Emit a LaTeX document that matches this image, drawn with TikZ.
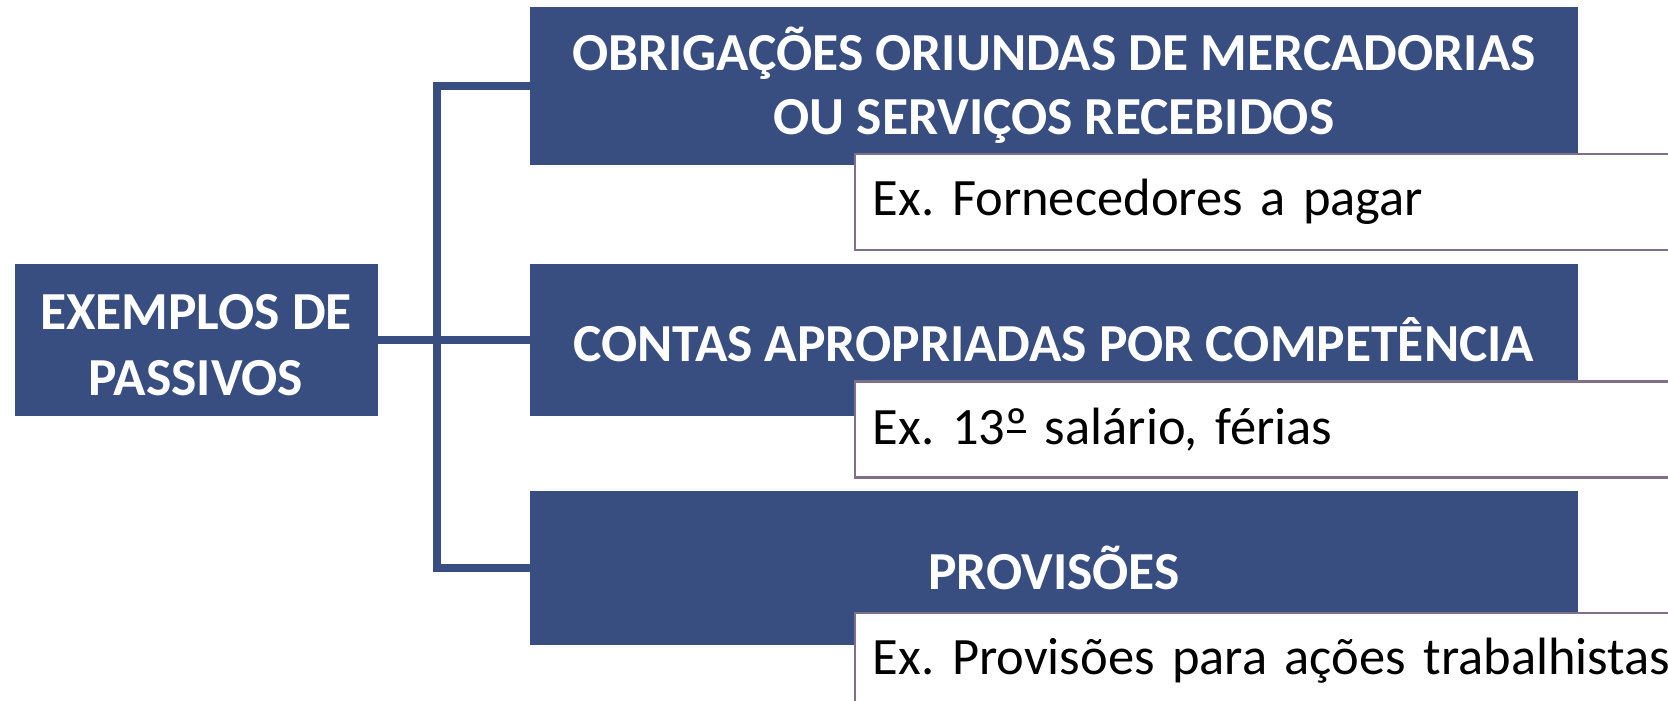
\documentclass[tikz,border=0pt]{standalone}
\usepackage{fontspec}
\setmainfont{Carlito}
\usetikzlibrary{positioning}
\definecolor{azul}{RGB}{56,78,128}
\definecolor{borda}{RGB}{126,112,136}
\frenchspacing
% ordinal with underline bar, as in the original font
\newcommand{\ordinalo}{\sbox0{º}\rlap{º}\kern0.03em\raisebox{0.22em}{\rule{\dimexpr\wd0-0.06em\relax}{0.045em}}\kern0.03em}

\begin{document}
\begin{tikzpicture}[%
        x=1pt, y=1pt,
        node distance=99pt,
        categoria/.style={%
          rectangle,
          fill=azul,
          text=white,
          font=\fontsize{53.5}{64}\selectfont\bfseries,
          align=center,
          minimum width=1048pt,
          minimum height=152pt
        },
        exemplo/.style={%
          rectangle,
          draw=borda,
          line width=2.5pt,
          fill=white,
          font=\fontsize{52.5}{62}\selectfont,
          text width=870pt,
          align=left,
          inner xsep=18pt,
          minimum height=96pt
        },
        ramo/.style={%
          draw=azul,
          line width=8pt,
          to path={-- ++(59pt,0) |- (\tikztotarget)}
        }
      ]
      \useasboundingbox (0,0) rectangle (1668,-701);
      \clip (0,0) rectangle (1668,-701);

      \node[categoria, minimum width=363pt] (main) at (196,-340) {\strut EXEMPLOS DE\\[2pt]PASSIVOS};
      \node[categoria] (cat2) [right=152pt of main] {CONTAS APROPRIADAS POR COMPETÊNCIA};
      \node[categoria, minimum height=158pt] (cat1) [above=of cat2] {OBRIGAÇÕES ORIUNDAS DE MERCADORIAS\\OU SERVIÇOS RECEBIDOS};
      \node[categoria, minimum height=154pt] (cat3) [below=75pt of cat2] {PROVISÕES};
      \node[exemplo] (ex1) [below right=-12pt and 324pt of cat1.south west] {Ex. Fornecedores a pagar};
      \node[exemplo] (ex2) [below right=-36pt and 324pt of cat2.south west] {Ex. 13\ordinalo{} salário, férias};
      \node[exemplo] (ex3) [below right=-34pt and 324pt of cat3.south west] {Ex. Provisões para ações trabalhistas};

      \path (main.east) edge [ramo] (cat1.west)
      (main.east) edge [ramo] (cat2.west)
      (main.east) edge [ramo] (cat3.west);

  \end{tikzpicture}
\end{document}
